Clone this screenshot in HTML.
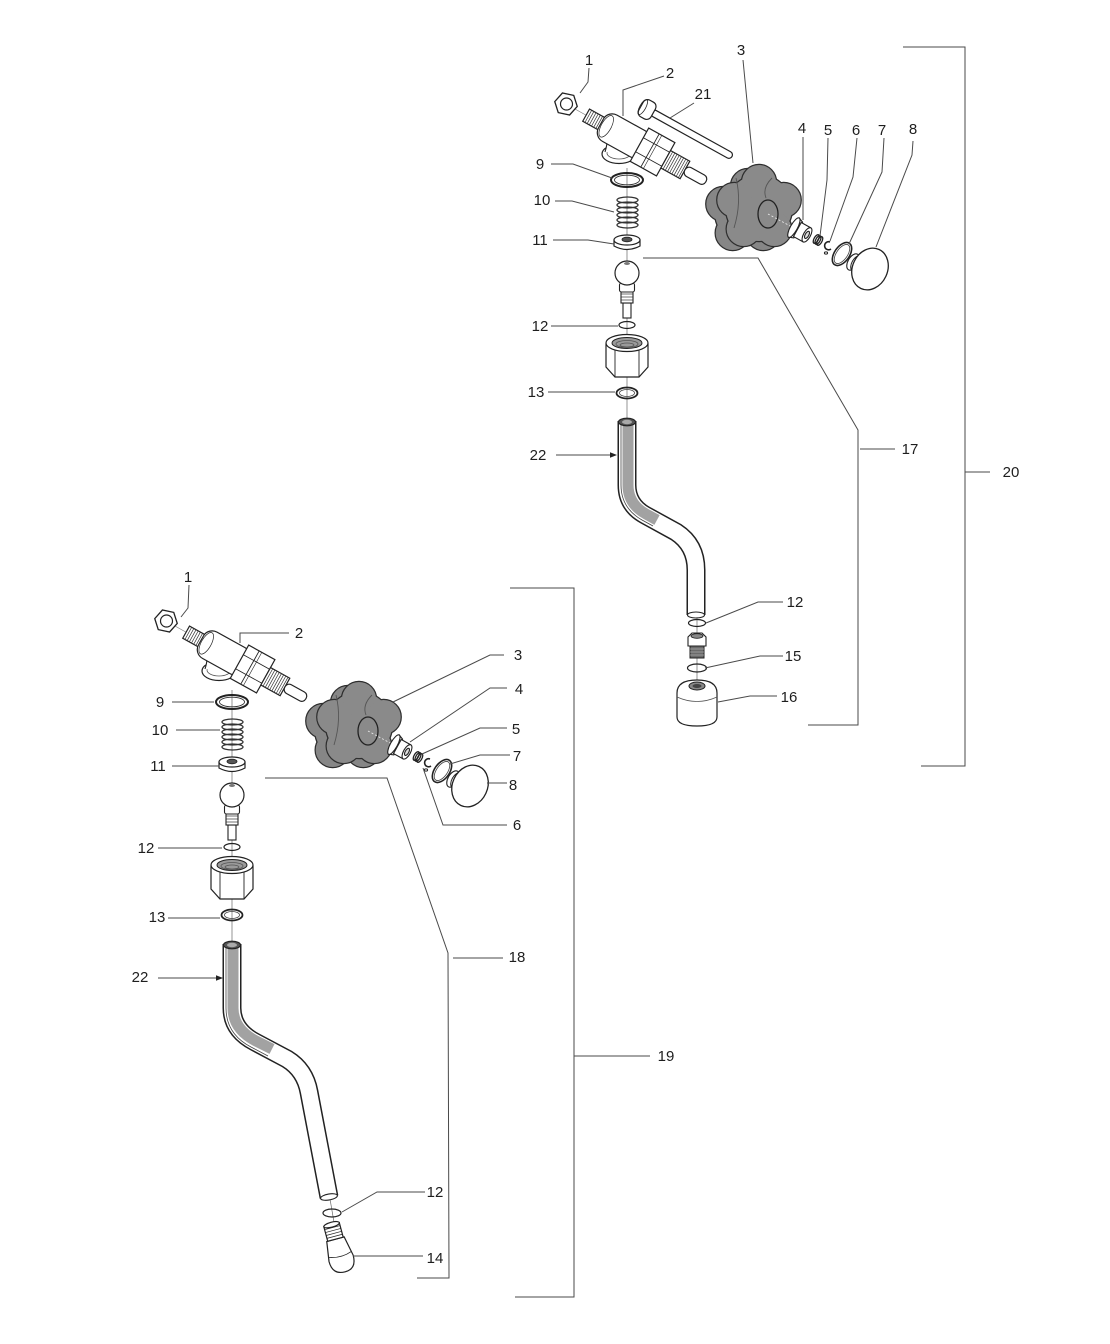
<!DOCTYPE html>
<html>
<head>
<meta charset="utf-8">
<style>
html,body{margin:0;padding:0;background:#fff;}
svg{display:block;}
text{font-family:"Liberation Sans",Arial,sans-serif;font-size:15px;fill:#1e1e1e;text-anchor:middle;}
</style>
</head>
<body>
<svg width="1110" height="1344" viewBox="0 0 1110 1344" xmlns="http://www.w3.org/2000/svg">
<rect width="1110" height="1344" fill="#fff"/>

<!-- ============ TOP ASSEMBLY: horizontal valve group ============ -->
<g id="hv">
  <line x1="566" y1="104" x2="706" y2="182" stroke="#777" stroke-width="0.6"/>
  <!-- flange / elbow -->
  <ellipse cx="619" cy="154" rx="17" ry="9.5" fill="#fff" stroke="#222" stroke-width="1.2"/>
  <ellipse cx="619" cy="153" rx="12" ry="6" fill="none" stroke="#555" stroke-width="0.8"/>
  <path d="M605,152 Q609,140 606,126 L634,139 Q631,148 635,153" fill="#fff" stroke="#222" stroke-width="1.1"/>
  <!-- nut 1 -->
  <polygon points="577.5,104 571.8,114 560.2,114 554.5,104 560.2,94 571.8,94" fill="#fff" stroke="#222" stroke-width="1.3" transform="rotate(12 566 104)"/>
  <circle cx="566.5" cy="104" r="6" fill="#fff" stroke="#222" stroke-width="1.2"/>
  <g transform="translate(566,104) rotate(29)" stroke="#222" stroke-width="1.2">
    <!-- thread stem -->
    <rect x="23" y="-7" width="20" height="14" fill="#fff"/>
    <g stroke-width="0.7" stroke="#333">
      <line x1="25.5" y1="-7" x2="25.5" y2="7"/><line x1="28" y1="-7" x2="28" y2="7"/>
      <line x1="30.5" y1="-7" x2="30.5" y2="7"/><line x1="33" y1="-7" x2="33" y2="7"/>
      <line x1="35.5" y1="-7" x2="35.5" y2="7"/><line x1="38" y1="-7" x2="38" y2="7"/>
      <line x1="40.5" y1="-7" x2="40.5" y2="7"/>
    </g>
    <!-- body -->
    <rect x="40" y="-15" width="52" height="30" rx="10" fill="#fff"/>
    <ellipse cx="46" cy="0" rx="5" ry="12" fill="none" stroke-width="0.7"/>
    <!-- hex nut -->
    <rect x="84" y="-19" width="30" height="38" fill="#fff"/>
    <line x1="84" y1="-8" x2="114" y2="-8" stroke-width="0.8"/>
    <line x1="84" y1="8" x2="114" y2="8" stroke-width="0.8"/>
    <line x1="96" y1="-19" x2="96" y2="19" stroke-width="0.9"/>
    <line x1="99" y1="-19" x2="99" y2="19" stroke-width="0.6"/>
    <!-- threaded end -->
    <rect x="114" y="-10" width="22" height="20" fill="#fff"/>
    <g stroke-width="0.7" stroke="#333">
      <line x1="116.5" y1="-10" x2="116.5" y2="10"/><line x1="119" y1="-10" x2="119" y2="10"/>
      <line x1="121.5" y1="-10" x2="121.5" y2="10"/><line x1="124" y1="-10" x2="124" y2="10"/>
      <line x1="126.5" y1="-10" x2="126.5" y2="10"/><line x1="129" y1="-10" x2="129" y2="10"/>
      <line x1="131.5" y1="-10" x2="131.5" y2="10"/><line x1="134" y1="-10" x2="134" y2="10"/>
    </g>
    <!-- pin -->
    <rect x="136" y="-5" width="24" height="10" rx="4.5" fill="#fff"/>
  </g>

  <!-- knob 3 : back -->
  <g fill="#868686" stroke="#2e2e2e" stroke-width="2.4">
    <circle cx="748" cy="212" r="33"/>
    <circle cx="748" cy="186" r="17"/><circle cx="772.7" cy="204" r="17"/>
    <circle cx="763.3" cy="233" r="17"/><circle cx="732.7" cy="233" r="17"/>
    <circle cx="723.3" cy="204" r="17"/>
  </g>
  <g fill="#868686">
    <circle cx="748" cy="212" r="33"/>
    <circle cx="748" cy="186" r="17"/><circle cx="772.7" cy="204" r="17"/>
    <circle cx="763.3" cy="233" r="17"/><circle cx="732.7" cy="233" r="17"/>
    <circle cx="723.3" cy="204" r="17"/>
  </g>
  <!-- knob 3 : front -->
  <g fill="#8a8a8a" stroke="#2e2e2e" stroke-width="2.4">
    <circle cx="759" cy="208" r="33"/>
    <circle cx="759" cy="182" r="17"/><circle cx="783.7" cy="200" r="17"/>
    <circle cx="774.3" cy="229" r="17"/><circle cx="743.7" cy="229" r="17"/>
    <circle cx="734.3" cy="200" r="17"/>
  </g>
  <g fill="#8a8a8a">
    <circle cx="759" cy="208" r="33"/>
    <circle cx="759" cy="182" r="17"/><circle cx="783.7" cy="200" r="17"/>
    <circle cx="774.3" cy="229" r="17"/><circle cx="743.7" cy="229" r="17"/>
    <circle cx="734.3" cy="200" r="17"/>
  </g>
  <path d="M736,178 Q742,202 734,228" fill="none" stroke="#555" stroke-width="0.9"/>
  <path d="M772,178 Q762,188 766,198" fill="none" stroke="#555" stroke-width="0.9"/>
  <ellipse cx="768" cy="214" rx="10" ry="14" fill="#8a8a8a" stroke="#222" stroke-width="1.3"/>
  <line x1="768" y1="214" x2="792" y2="227" stroke="#eee" stroke-width="0.8" stroke-dasharray="2 2"/>

  <!-- bushing 4 -->
  <g transform="translate(800,231) rotate(29)" stroke="#222" stroke-width="1.1">
    <path d="M-7,-11 L-2,-9 L-2,9 L-7,11 Z" fill="#fff"/>
    <ellipse cx="-7" cy="0" rx="3.5" ry="11" fill="#fff"/>
    <rect x="-3" y="-8" width="11" height="16" fill="#fff"/>
    <ellipse cx="8" cy="0" rx="3.5" ry="8" fill="#fff"/>
    <ellipse cx="8" cy="0" rx="1.8" ry="4" fill="#ddd"/>
  </g>
  <!-- spring 5 -->
  <g transform="translate(818,240) rotate(29)" fill="none" stroke="#222" stroke-width="1.3">
    <ellipse cx="-2" cy="0" rx="2.2" ry="4.8"/>
    <ellipse cx="0" cy="0" rx="2.2" ry="4.8"/>
    <ellipse cx="2" cy="0" rx="2.2" ry="4.8"/>
  </g>
  <!-- clip 6 -->
  <path d="M830,242 A4,4 0 1 0 831,249" fill="none" stroke="#222" stroke-width="1.6"/>
  <ellipse cx="826" cy="253" rx="1.6" ry="1.1" fill="none" stroke="#222" stroke-width="1"/>
  <!-- o-ring 7 -->
  <ellipse cx="842" cy="254" rx="7.5" ry="13" transform="rotate(35 842 254)" fill="none" stroke="#222" stroke-width="1.6"/>
  <ellipse cx="842" cy="254" rx="5.5" ry="11" transform="rotate(35 842 254)" fill="none" stroke="#444" stroke-width="0.8"/>
  <!-- cap 8 -->
  <ellipse cx="853" cy="262" rx="5" ry="9" transform="rotate(30 853 262)" fill="#fff" stroke="#222" stroke-width="1.1"/>
  <ellipse cx="856" cy="263" rx="4" ry="8" transform="rotate(30 856 263)" fill="#fff" stroke="#222" stroke-width="1"/>
  <ellipse cx="870" cy="269" rx="17.5" ry="21.5" transform="rotate(25 870 269)" fill="#fff" stroke="#222" stroke-width="1.3"/>
</g>

<!-- ============ TOP ASSEMBLY: vertical stack ============ -->
<g id="st">
  <line x1="627" y1="168" x2="627" y2="420" stroke="#666" stroke-width="0.7"/>
  <!-- washer 9 -->
  <ellipse cx="627" cy="180" rx="16" ry="7" fill="none" stroke="#222" stroke-width="2"/>
  <ellipse cx="627" cy="180" rx="12.5" ry="4.8" fill="none" stroke="#333" stroke-width="0.9"/>
  <!-- spring 10 -->
  <g fill="none" stroke="#333" stroke-width="1.3">
    <ellipse cx="627.5" cy="200" rx="10.5" ry="3"/>
    <ellipse cx="627.5" cy="205" rx="10.5" ry="3"/>
    <ellipse cx="627.5" cy="210" rx="10.5" ry="3"/>
    <ellipse cx="627.5" cy="215" rx="10.5" ry="3"/>
    <ellipse cx="627.5" cy="220" rx="10.5" ry="3"/>
    <ellipse cx="627.5" cy="225" rx="10.5" ry="3"/>
  </g>
  <!-- seat 11 -->
  <path d="M614,240 L614,246 Q627,253 640,246 L640,240" fill="#fff" stroke="#222" stroke-width="1.2"/>
  <ellipse cx="627" cy="240" rx="13" ry="5" fill="#fff" stroke="#222" stroke-width="1.2"/>
  <ellipse cx="627" cy="239.5" rx="5" ry="2.3" fill="#555" stroke="#222" stroke-width="0.8"/>
  <!-- ball stem -->
  <rect x="623" y="303" width="8" height="15" fill="#fff" stroke="#222" stroke-width="1.1"/>
  <rect x="621" y="291" width="12" height="12" fill="#fff" stroke="#222" stroke-width="1.1"/>
  <g stroke="#333" stroke-width="0.7">
    <line x1="621" y1="294" x2="633" y2="294"/><line x1="621" y1="297" x2="633" y2="297"/><line x1="621" y1="300" x2="633" y2="300"/>
  </g>
  <rect x="619.5" y="283" width="15" height="9" rx="2" fill="#fff" stroke="#222" stroke-width="1.1"/>
  <circle cx="627" cy="273" r="12" fill="#fff" stroke="#222" stroke-width="1.2"/>
  <ellipse cx="627" cy="263.5" rx="3" ry="1.5" fill="#777"/>
  <!-- o-ring 12 -->
  <ellipse cx="627" cy="325" rx="8" ry="3.5" fill="none" stroke="#222" stroke-width="1.2"/>
  <!-- hex nut -->
  <path d="M606,344 L606,367 L615,377 L639,377 L648,367 L648,344 Z" fill="#fff" stroke="#222" stroke-width="1.2"/>
  <line x1="615" y1="350" x2="615" y2="377" stroke="#222" stroke-width="0.9"/>
  <line x1="639" y1="350" x2="639" y2="377" stroke="#222" stroke-width="0.9"/>
  <ellipse cx="627" cy="343" rx="21" ry="8.5" fill="#fff" stroke="#222" stroke-width="1.2"/>
  <ellipse cx="627" cy="343" rx="15" ry="5.5" fill="#9a9a9a" stroke="#222" stroke-width="1"/>
  <ellipse cx="627" cy="344" rx="11" ry="3.5" fill="none" stroke="#555" stroke-width="0.8"/>
  <ellipse cx="627" cy="345" rx="7" ry="2" fill="none" stroke="#555" stroke-width="0.8"/>
  <!-- o-ring 13 -->
  <ellipse cx="627" cy="393" rx="10.5" ry="5.5" fill="none" stroke="#222" stroke-width="1.8"/>
  <ellipse cx="627" cy="393" rx="7.5" ry="3.5" fill="none" stroke="#444" stroke-width="0.8"/>
</g>

<!-- part 21 (top only) -->
<g transform="translate(648,110) rotate(29)" stroke="#222" stroke-width="1.2">
  <rect x="4" y="-3.5" width="92" height="7" rx="3.5" fill="#fff"/>
  <rect x="-8" y="-9.5" width="14" height="19" rx="5" fill="#fff"/>
  <ellipse cx="-6" cy="0" rx="3" ry="8.5" fill="none" stroke-width="0.8"/>
</g>

<!-- top tube 22 -->
<path d="M627,421 L627,485 Q627,505 645,515 L676,532 Q696,545 696,570 L696,615" fill="none" stroke="#222" stroke-width="19"/>
<path d="M627,421 L627,485 Q627,505 645,515 L676,532 Q696,545 696,570 L696,615" fill="none" stroke="#fff" stroke-width="16"/>
<path d="M628,423 L628,485 Q628,504 646,514 L657,520" fill="none" stroke="#a2a2a2" stroke-width="11"/>
<path d="M621,423 L621,485 Q621,508 642,520 L653,526" fill="none" stroke="#444" stroke-width="0.8"/>
<ellipse cx="627" cy="422" rx="8.5" ry="3.8" fill="#555" stroke="#222" stroke-width="1.1"/>
<ellipse cx="627" cy="422" rx="5" ry="2.2" fill="#aaa"/>
<ellipse cx="696" cy="615" rx="8.5" ry="3" fill="#fff" stroke="#222" stroke-width="1.1"/>

<!-- top lower parts -->
<line x1="697" y1="617" x2="697" y2="690" stroke="#666" stroke-width="0.7"/>
<ellipse cx="697" cy="623" rx="8.5" ry="3.5" fill="none" stroke="#222" stroke-width="1.2"/>
<rect x="690" y="646" width="14" height="12" fill="#6a6a6a" stroke="#222" stroke-width="1"/>
<g stroke="#bbb" stroke-width="0.6"><line x1="690" y1="649" x2="704" y2="649"/><line x1="690" y1="652" x2="704" y2="652"/><line x1="690" y1="655" x2="704" y2="655"/></g>
<polygon points="688,637 692,633 702,633 706,637 706,646 688,646" fill="#fff" stroke="#222" stroke-width="1.1"/>
<ellipse cx="697" cy="636" rx="6" ry="2.3" fill="#888" stroke="#222" stroke-width="0.8"/>
<ellipse cx="697" cy="668" rx="9.5" ry="4" fill="none" stroke="#222" stroke-width="1.2"/>
<path d="M677,693 Q677,680 697,680 Q717,680 717,693 L717,717 Q717,726 697,726 Q677,726 677,717 Z" fill="#fff" stroke="#222" stroke-width="1.2"/>
<path d="M677,697 Q697,706 717,697" fill="none" stroke="#555" stroke-width="0.8"/>
<ellipse cx="697" cy="686" rx="8" ry="4" fill="#888" stroke="#222" stroke-width="1"/>
<ellipse cx="697" cy="686" rx="4.5" ry="2" fill="#444"/>

<!-- ============ BOTTOM ASSEMBLY ============ -->
<use href="#hv" transform="translate(-400,517)"/>
<use href="#st" transform="translate(-395,522)"/>

<!-- bottom tube 22 -->
<path d="M232,944 L232,1008 Q232,1030 255,1042 L287,1059 Q305,1070 309,1092 L329,1197" fill="none" stroke="#222" stroke-width="19"/>
<path d="M232,944 L232,1008 Q232,1030 255,1042 L287,1059 Q305,1070 309,1092 L329,1197" fill="none" stroke="#fff" stroke-width="16"/>
<path d="M233,946 L233,1008 Q233,1029 256,1041 L272,1049" fill="none" stroke="#a2a2a2" stroke-width="11"/>
<path d="M226,946 L226,1008 Q226,1034 251,1047 L268,1056" fill="none" stroke="#444" stroke-width="0.8"/>
<ellipse cx="232" cy="945" rx="8.5" ry="3.8" fill="#555" stroke="#222" stroke-width="1.1"/>
<ellipse cx="232" cy="945" rx="5" ry="2.2" fill="#aaa"/>
<ellipse cx="329" cy="1197" rx="8.5" ry="3" transform="rotate(-10 329 1197)" fill="#fff" stroke="#222" stroke-width="1.1"/>
<line x1="330" y1="1199" x2="335" y2="1228" stroke="#666" stroke-width="0.7"/>
<ellipse cx="332" cy="1213" rx="9" ry="4" fill="none" stroke="#222" stroke-width="1.2"/>
<!-- nozzle 14 -->
<g transform="translate(337,1245) rotate(-15)" stroke="#222" stroke-width="1.2">
  <path d="M-9,-6 L9,-6 L13,14 Q13,28 1,28 Q-12,28 -12,14 Z" fill="#fff"/>
  <path d="M-11,10 Q1,14 12,10" fill="none" stroke-width="0.8"/>
  <rect x="-8" y="-21" width="16" height="15" fill="#fff"/>
  <g stroke-width="0.7"><line x1="-8" y1="-18" x2="8" y2="-18"/><line x1="-8" y1="-15" x2="8" y2="-15"/><line x1="-8" y1="-12" x2="8" y2="-12"/><line x1="-8" y1="-9" x2="8" y2="-9"/></g>
  <ellipse cx="0" cy="-21" rx="8" ry="2.5" fill="#fff"/>
</g>

<!-- ============ LEADERS & BRACKETS ============ -->
<g fill="none" stroke="#4a4a4a" stroke-width="1">
  <!-- top -->
  <polyline points="589,68 588,82 580,93"/>
  <polyline points="664,76 623,90 623,116"/>
  <polyline points="694,103 670,118"/>
  <polyline points="743,60 753,163"/>
  <polyline points="803,137 803,220"/>
  <polyline points="828,138 827,180 820,236"/>
  <polyline points="857,138 853,177 830,241"/>
  <polyline points="884,138 882,172 849,244"/>
  <polyline points="913,141 912,155 876,247"/>
  <polyline points="551,164 573,164 612,178"/>
  <polyline points="555,201 572,201 614,212"/>
  <polyline points="553,240 588,240 614,244"/>
  <polyline points="551,326 618,326"/>
  <polyline points="548,392 615,392"/>
  <polyline points="556,455 612,455"/>
  <polyline points="643,258 758,258 858,430 858,725 808,725"/>
  <polyline points="860,449 895,449"/>
  <polyline points="903,47 965,47 965,766 921,766"/>
  <polyline points="965,472 990,472"/>
  <polyline points="783,602 758,602 706,623"/>
  <polyline points="783,656 760,656 705,668"/>
  <polyline points="777,696 750,696 718,702"/>
  <!-- bottom -->
  <polyline points="189,585 188,608 181,617"/>
  <polyline points="289,633 240,633 240,643"/>
  <polyline points="504,655 490,655 393,702"/>
  <polyline points="507,688 490,688 410,742"/>
  <polyline points="507,728 480,728 422,754"/>
  <polyline points="510,755 480,755 450,764"/>
  <polyline points="507,783 487,783"/>
  <polyline points="507,825 443,825 423,768"/>
  <polyline points="172,702 214,702"/>
  <polyline points="176,730 220,730"/>
  <polyline points="172,766 219,766"/>
  <polyline points="158,848 222,848"/>
  <polyline points="168,918 220,918"/>
  <polyline points="158,978 218,978"/>
  <polyline points="265,778 387,778 448,953 449,1278 417,1278"/>
  <polyline points="453,958 503,958"/>
  <polyline points="510,588 574,588 574,1297 515,1297"/>
  <polyline points="574,1056 650,1056"/>
  <polyline points="425,1192 377,1192 342,1212"/>
  <polyline points="423,1256 353,1256"/>
</g>
<polygon points="617,455 610,452.3 610,457.7" fill="#222"/>
<polygon points="223,978 216,975.3 216,980.7" fill="#222"/>

<!-- ============ LABELS ============ -->
<text x="589" y="65">1</text>
<text x="670" y="78">2</text>
<text x="741" y="55">3</text>
<text x="703" y="99">21</text>
<text x="802" y="133">4</text>
<text x="828" y="135">5</text>
<text x="856" y="135">6</text>
<text x="882" y="135">7</text>
<text x="913" y="134">8</text>
<text x="540" y="169">9</text>
<text x="542" y="205">10</text>
<text x="540" y="245">11</text>
<text x="540" y="331">12</text>
<text x="536" y="397">13</text>
<text x="538" y="460">22</text>
<text x="910" y="454">17</text>
<text x="1011" y="477">20</text>
<text x="795" y="607">12</text>
<text x="793" y="661">15</text>
<text x="789" y="702">16</text>

<text x="188" y="582">1</text>
<text x="299" y="638">2</text>
<text x="518" y="660">3</text>
<text x="519" y="694">4</text>
<text x="516" y="734">5</text>
<text x="517" y="761">7</text>
<text x="513" y="790">8</text>
<text x="517" y="830">6</text>
<text x="160" y="707">9</text>
<text x="160" y="735">10</text>
<text x="158" y="771">11</text>
<text x="146" y="853">12</text>
<text x="157" y="922">13</text>
<text x="140" y="982">22</text>
<text x="517" y="962">18</text>
<text x="666" y="1061">19</text>
<text x="435" y="1197">12</text>
<text x="435" y="1263">14</text>
</svg>
</body>
</html>
